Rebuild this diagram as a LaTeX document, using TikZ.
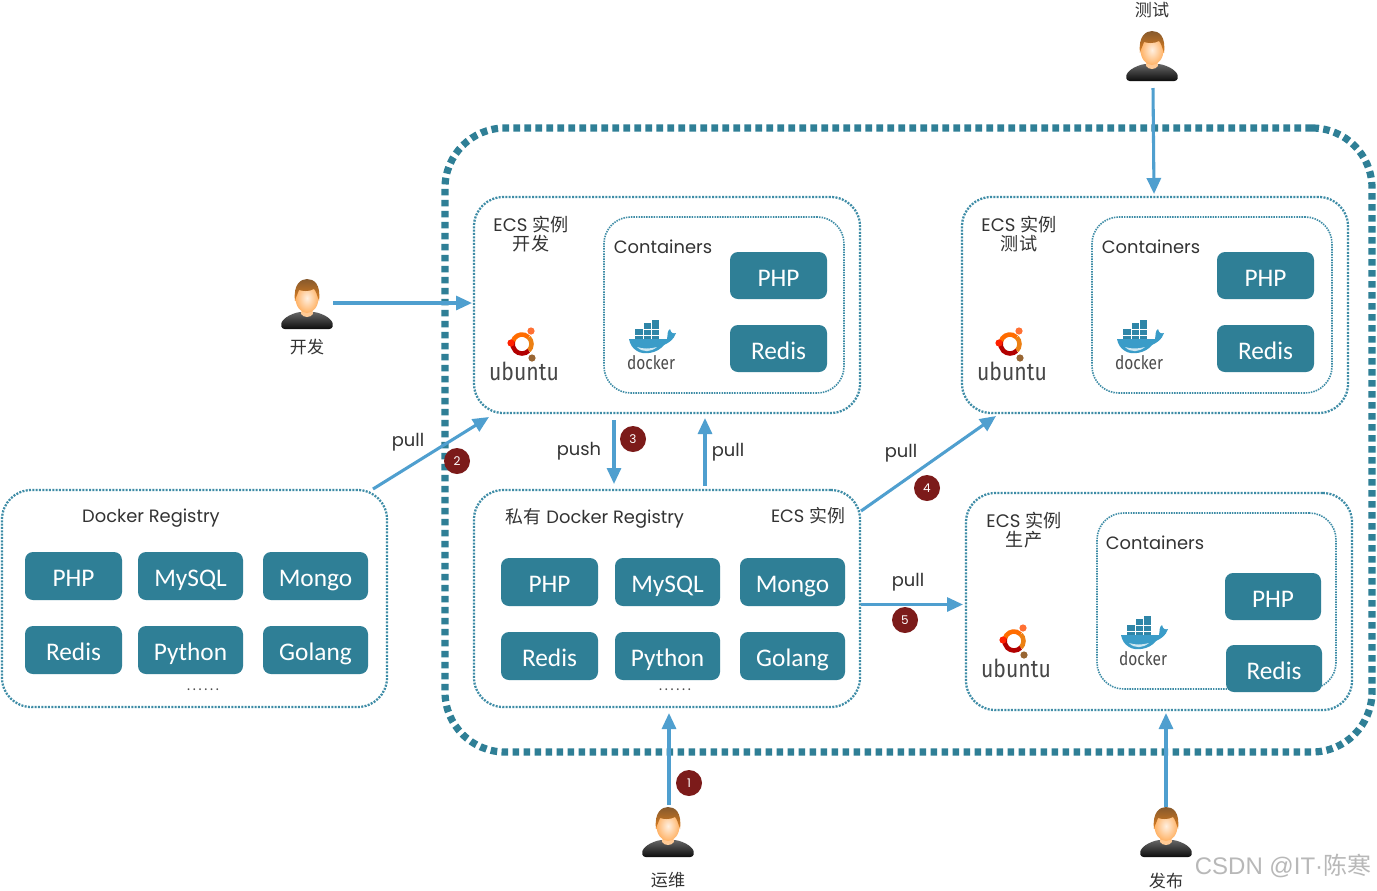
\documentclass[tikz,border=0pt]{standalone}
\usepackage{fontspec}
\setmainfont{Poppins}
\newfontfamily\cjk{Noto Sans CJK SC}
\newfontfamily\boxfont{Carlito}
\newfontfamily\logofont{Fira Sans}
\newfontfamily\wmfont{Liberation Sans}
\usetikzlibrary{arrows.meta,calc}
\definecolor{teal1}{HTML}{2F7F96}
\definecolor{dotc}{HTML}{3E8CA6}
\definecolor{arrc}{HTML}{4F9FCF}
\definecolor{badge}{HTML}{7C1B1A}
\definecolor{txt}{HTML}{333333}
\definecolor{whale}{HTML}{3A9CC8}
\definecolor{crate}{HTML}{2F86A8}
\tikzset{
  x=0.75pt,y=-0.75pt,
  outerzone/.style={draw=teal1,line width=5.4pt,dash pattern=on 5pt off 3.25pt,rounded corners=45pt},
  dotbox/.style={draw=dotc,line width=1.7pt,dash pattern=on 1.5pt off 1pt,rounded corners=22pt,outer sep=0pt,inner sep=0pt},
  contbox/.style={draw=dotc,line width=1.2pt,dash pattern=on 1.1pt off 0.8pt,rounded corners=20pt,outer sep=0pt,inner sep=0pt},
  tealbox/.style={fill=teal1,rounded corners=6pt,outer sep=0pt,inner sep=0pt,text=white,text height=16pt,text depth=0pt,font=\boxfont\fontsize{19}{22}\selectfont},
  arr/.style={draw=arrc,line width=2.3pt,-{Triangle[length=12pt,width=10.5pt]}},
  numbadge/.style={circle,fill=badge,text=white,minimum size=19.5pt,inner sep=0pt,font=\fontsize{9}{10}\selectfont},
  lab/.style={text=txt,inner sep=0pt,font=\fontsize{13.4}{15}\selectfont,align=center},
  dotlab/.style={text=black!70,inner sep=0pt,font=\fontsize{11}{14}\selectfont},
  cjklab/.style={text=txt,inner sep=0pt,font=\cjk\fontsize{12.8}{15}\selectfont},
  ecslab/.style={text=txt,inner sep=0pt,align=center,font=\fontsize{13.6}{14.6}\selectfont},
  personbox/.style={minimum width=39pt,minimum height=37.5pt,inner sep=0pt,outer sep=0pt},
}
\newcommand{\bx}[6]{%
  \pgfmathsetmacro\cxx{(#3+#5)/2}\pgfmathsetmacro\cyy{(#4+#6)/2}%
  \pgfmathsetmacro\wdd{(#5-#3)*0.75}\pgfmathsetmacro\htt{(#6-#4)*0.75}%
  \node[#1,minimum width=\wdd pt,minimum height=\htt pt] (#2) at (\cxx,\cyy)}
\newcommand{\dotrow}{.\kern2pt.\kern2pt.\kern2pt.\kern2pt.\kern2pt.}
\newcommand{\persondraw}[1]{%
  \begin{scope}[shift={(#1)}]
    \path[top color=black!60,bottom color=black!95,rounded corners=2pt]
      (-25,25) .. controls (-27,18) and (-22,12) .. (-8,8) -- (8,8)
      .. controls (22,12) and (27,18) .. (25,25) -- cycle;
    \path[top color=orange!45!white,bottom color=orange!40!white] (-5,2) -- (5,2) -- (6,10) .. controls (3,14) and (-3,14) .. (-6,10) -- cycle;
    \path[inner color=orange!12!white,outer color=orange!60!white] (0,-6) ellipse [x radius=11.5,y radius=15];
    \path[top color=brown!70!black,bottom color=orange!50!brown]
      (-12,-3) .. controls (-14,-20) and (-6,-25) .. (0,-25)
      .. controls (7,-25) and (14,-20) .. (12,-3)
      .. controls (10,-9) and (9,-13) .. (7,-15)
      .. controls (2,-12) and (-5,-13) .. (-8,-14)
      .. controls (-9,-10) and (-11,-8) .. (-12,-3) -- cycle;
  \end{scope}}
\newcommand{\ubuntulogo}[1]{%
  \begin{scope}[shift={(#1)}]
    \draw[line width=3.4pt,color=orange!85!red] (-165:9.5) arc[start angle=-165,end angle=-45,radius=9.5];
    \draw[line width=3.4pt,color=orange!70!brown] (-45:9.5) arc[start angle=-45,end angle=45,radius=9.5];
    \draw[line width=3.4pt,color=red!70!black] (45:9.5) arc[start angle=45,end angle=195,radius=9.5];
    \fill[color=red!75!orange] (-11,-1) circle (3.6);
    \fill[color=red!40!orange!80!white] (9,-13) circle (3.6);
    \fill[color=brown!80!black] (10,14) circle (3.6);
    \node[text=black!72,inner sep=0pt,font=\logofont\fontsize{18.5}{20}\selectfont] at (2,27) {\scalebox{0.86}[1]{ubuntu}};
  \end{scope}}
\newcommand{\dockerlogo}[1]{%
  \begin{scope}[shift={(#1)}]
    \fill[color=crate] (-16,-11) rectangle (8,0);
    \fill[color=crate] (-8,-17) rectangle (8,-10);
    \fill[color=crate] (0,-20) rectangle (8,-10);
    \draw[white,line width=0.3pt] (-16,-5) -- (8,-5) (-8,-11) -- (8,-11) (-8,-17) -- (-8,0) (0,-20) -- (0,0);
    \fill[color=whale]
      (-22,-1) -- (16,-1) .. controls (17,-6) and (16,-9) .. (19,-11)
      .. controls (20,-7) and (22,-6) .. (25,-7)
      .. controls (23,0) and (17,3) .. (13,5)
      .. controls (6,14) and (-8,15) .. (-14,11)
      .. controls (-19,8) and (-21,4) .. (-22,-1) -- cycle;
    \fill[white,opacity=.75] (-14,7) .. controls (-8,13) and (0,12) .. (6,7) .. controls (-1,9) and (-8,9) .. (-14,7) -- cycle;
    \node[text=black!70,inner sep=0pt,font=\logofont\fontsize{14}{15}\selectfont] at (0,23) {\scalebox{0.83}[1]{docker}};
  \end{scope}}
\begin{document}
\begin{tikzpicture}
\useasboundingbox (0,0) rectangle (1377,890);
\fill[white] (0,0) rectangle (1377,890);
% outer zone
\bx{outerzone}{zone}{445}{128}{1372}{752} {};
% ECS dev
\bx{dotbox}{ecsdev}{474}{197}{860}{413} {};
\bx{contbox}{contdev}{604}{217}{844}{393} {};
\bx{tealbox}{devphp}{730}{252}{827}{299} {PHP};
\bx{tealbox}{devredis}{730}{325}{827}{372} {Redis};
\node[ecslab] (devlab) at (531,234) {ECS {\cjk 实例}\\[0pt]{\cjk 开发}};
\node[lab] (devcont) at (663,247) {Containers};
\ubuntulogo{522,344}
\dockerlogo{651,340}
% ECS test
\bx{dotbox}{ecstest}{962}{197}{1348}{413} {};
\bx{contbox}{conttest}{1092}{217}{1332}{393} {};
\bx{tealbox}{testphp}{1217}{252}{1314}{299} {PHP};
\bx{tealbox}{testredis}{1217}{325}{1314}{372} {Redis};
\node[ecslab] (testlab) at (1019,234) {ECS {\cjk 实例}\\[0pt]{\cjk 测试}};
\node[lab] (testcont) at (1151,247) {Containers};
\ubuntulogo{1010,344}
\dockerlogo{1139,340}
% ECS prod
\bx{dotbox}{ecsprod}{966}{493}{1352}{710} {};
\bx{contbox}{contprod}{1097}{513}{1336}{689} {};
\bx{tealbox}{prodphp}{1225}{573}{1321}{620} {PHP};
\bx{tealbox}{prodredis}{1226}{645}{1322}{692} {Redis};
\node[ecslab] (prodlab) at (1024,530) {ECS {\cjk 实例}\\[0pt]{\cjk 生产}};
\node[lab] (prodcont) at (1155,543) {Containers};
\ubuntulogo{1014,641}
\dockerlogo{1143,636}
% private registry
\bx{dotbox}{priv}{474}{490}{860}{707} {};
\node[lab] (privlab) at (595,518) {{\cjk 私有} Docker Registry};
\node[lab] (privecs) at (808,516) {ECS {\cjk 实例}};
\bx{tealbox}{pphp}{501}{558}{598}{606} {PHP};
\bx{tealbox}{pmysql}{615}{558}{720}{606} {MySQL};
\bx{tealbox}{pmongo}{740}{558}{845}{606} {Mongo};
\bx{tealbox}{predis}{501}{632}{598}{680} {Redis};
\bx{tealbox}{ppython}{615}{632}{720}{680} {Python};
\bx{tealbox}{pgolang}{740}{632}{845}{680} {Golang};
\node[dotlab] (pdots) at (675,690) {\dotrow};
% public registry
\bx{dotbox}{reg}{2}{490}{387}{707} {};
\node[lab] (reglab) at (151,518) {Docker Registry};
\bx{tealbox}{rphp}{25}{552}{122}{600} {PHP};
\bx{tealbox}{rmysql}{138}{552}{243}{600} {MySQL};
\bx{tealbox}{rmongo}{263}{552}{368}{600} {Mongo};
\bx{tealbox}{rredis}{25}{626}{122}{674} {Redis};
\bx{tealbox}{rpython}{138}{626}{243}{674} {Python};
\bx{tealbox}{rgolang}{263}{626}{368}{674} {Golang};
\node[dotlab] (rdots) at (203,690) {\dotrow};
% persons
\node[personbox] (pdev) at (307,304) {};
\persondraw{307,304}
\node[cjklab] (ldev) at (307,347) {开发};
\node[personbox] (ptest) at (1152,56) {};
\persondraw{1152,56}
\node[cjklab] (ltest) at (1152,10) {测试};
\node[personbox] (pops) at (668,832) {};
\persondraw{668,832}
\node[cjklab] (lops) at (668,880) {运维};
\node[personbox] (prel) at (1166,832) {};
\persondraw{1166,832}
\node[cjklab] (lrel) at (1166,881) {发布};
% connectors
\draw[arr] ($(pdev.east)+(0,-1)$) -- ($(ecsdev.west)+(-2,-2)$);
\draw[arr] ($(ptest.south)+(1,7)$) -- ($(ecstest.north)+(-1,-3)$);
\draw[arr] ($(reg.north east)+(-14,-1)$) -- ($(ecsdev.south west)+(15,4)$);
\draw[arr] ($(ecsdev.south)+(-53,7)$) -- ($(priv.north)+(-53,-6)$);
\draw[arr] ($(priv.north)+(38,-4)$) -- ($(ecsdev.south)+(38,5)$);
\draw[arr] ($(priv.north east)+(1,21)$) -- ($(ecstest.south west)+(34,3)$);
\draw[arr] ($(priv.east)+(1,6)$) -- ($(ecsprod.west)+(-3,3)$);
\draw[arr] ($(pops.north)+(1,-2)$) -- ($(priv.south)+(2,6)$);
\draw[arr] (prel.north) -- ($(ecsprod.south)+(7,3)$);
% connector labels
\node[lab] (l2) at (408,442) {pull};
\node[lab] (l3) at (579,451) {push};
\node[lab] (l3b) at (728,452) {pull};
\node[lab] (l4) at (901,453) {pull};
\node[lab] (l5) at (908,582) {pull};
\node[numbadge] (n1) at (689,783) {1};
\node[numbadge] (n2) at (457,461) {2};
\node[numbadge] (n3) at (633,439) {3};
\node[numbadge] (n4) at (927,488) {4};
\node[numbadge] (n5) at (905,620) {5};
% watermark
\node[text=black!28,inner sep=0pt,font=\wmfont\fontsize{18}{20}\selectfont] (wm) at (1283,866) {CSDN @IT·{\cjk 陈寒}};
\end{tikzpicture}
\end{document}
